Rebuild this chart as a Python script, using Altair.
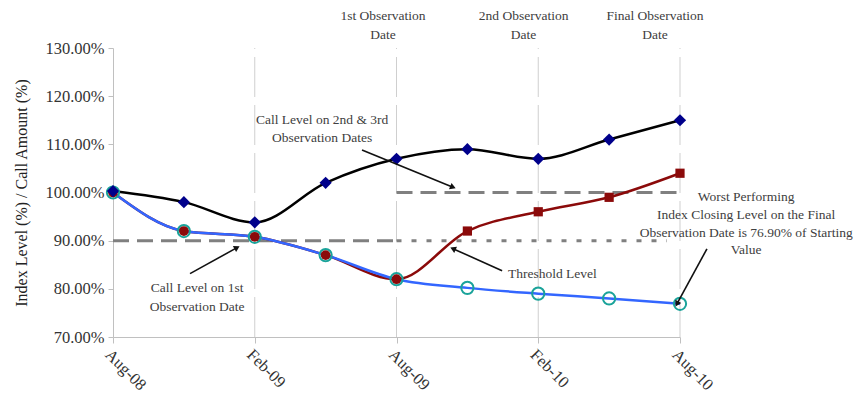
import math
import altair as alt
import pandas as pd

# ---------------- data ----------------
months = [0, 3, 6, 9, 12, 15, 18, 21, 24]
tick_months = [0, 6, 12, 18, 24]
tick_labels = ["Aug-08", "Feb-09", "Aug-09", "Feb-10", "Aug-10"]
y_ticks = [70, 80, 90, 100, 110, 120, 130]

best_index = [100.3, 98.0, 93.8, 102.0, 107.0, 109.0, 107.0, 111.0, 115.0]
worst_index = [100.0, 92.0, 90.8, 87.0, 82.0, 80.2, 79.0, 78.0, 76.9]
call_amount = [100.0, 92.0, 90.8, 87.0, 82.0, 92.0, 96.0, 99.0, 104.0]

guide_months = [6, 12, 18, 24]

# level lines: start month, end month, level
call1_level = [0, 12, 90]
threshold_level = [12, 23.45, 90]
call23_level = [12, 24, 100]

# annotation text lines: text, month, level
ann_text = [
    "1st Observation", "Date",
    "2nd Observation", "Date",
    "Final Observation", "Date",
    "Call Level on 2nd & 3rd", "Observation Dates",
    "Call Level on 1st", "Observation Date",
    "Threshold Level",
    "Worst Performing", "Index Closing Level on the Final",
    "Observation Date is 76.90% of Starting", "Value",
]
ann_m = [11.43, 11.43, 17.38, 17.38, 22.94, 22.94,
         8.85, 8.85, 3.56, 3.56, 18.6,
         26.8, 26.8, 26.8, 26.8]
ann_v = [136.6, 132.7, 136.6, 132.7, 136.6, 132.7,
         115.05, 111.3, 80.2, 76.2, 83.15,
         99.07, 95.33, 91.6, 88.06]

# arrows: from (m1, v1) to (m2, v2)
arrow_m1 = [10.54, 3.26, 16.47, 25.14]
arrow_v1 = [108.8, 83.15, 83.77, 88.3]
arrow_m2 = [14.39, 5.25, 14.39, 23.87]
arrow_v2 = [101.1, 88.55, 88.34, 76.88]

# ---------------- layout ----------------
W, H = 567, 289
PX_M = W / 24.0
PX_V = H / 60.0
SERIF = "Liberation Serif"

df_best = pd.DataFrame({"m": months, "v": best_index})
df_worst = pd.DataFrame({"m": months, "v": worst_index})
df_call = pd.DataFrame({"m": months, "v": call_amount})
df_guides = pd.DataFrame({"m": guide_months, "v": [70] * 4, "v2": [130] * 4})


def seg(s):
    return pd.DataFrame({"m": [s[0]], "m2": [s[1]], "v": [s[2]]})


df_ann = pd.DataFrame({"m": ann_m, "v": ann_v, "t": ann_text})
angles = []
for a, b, c, d in zip(arrow_m1, arrow_v1, arrow_m2, arrow_v2):
    dx = (c - a) * PX_M
    dy = -(d - b) * PX_V
    angles.append(math.degrees(math.atan2(dy, dx)) % 360)
df_arrow = pd.DataFrame({"m": arrow_m1, "v": arrow_v1, "m2": arrow_m2, "v2": arrow_v2})
df_head = pd.DataFrame({"m": arrow_m2, "v": arrow_v2, "ang": angles})

label_expr = "{" + ",".join(f"'{m}':'{l}'" for m, l in zip(tick_months, tick_labels)) + "}[datum.value]"

xs = alt.Scale(domain=[0, 24], nice=False, zero=False)
ys = alt.Scale(domain=[70, 130], nice=False, zero=False)

x_axis = alt.Axis(values=tick_months, labelExpr=label_expr, labelAngle=45, labelAlign="left",
                  labelBaseline="top", grid=False, domainColor="#c0c0c0", tickColor="#c0c0c0",
                  tickSize=6, labelFont=SERIF, labelFontSize=16.5, labelColor="#333333",
                  labelPadding=3)
y_axis = alt.Axis(values=y_ticks, labelExpr="format(datum.value, '.2f') + '%'", grid=False,
                  domainColor="#c0c0c0", tickColor="#c0c0c0", tickSize=5, labelFont=SERIF,
                  labelFontSize=16.5, labelColor="#333333", labelPadding=4,
                  title="Index Level (%) / Call Amount (%)", titleFont=SERIF, titleFontSize=16,
                  titleFontWeight="normal", titleColor="#222222", titlePadding=15)

X = alt.X("m:Q", scale=xs, axis=x_axis, title=None)
Y = alt.Y("v:Q", scale=ys, axis=y_axis)

guides = alt.Chart(df_guides).mark_rule(color="#cfcfcf", strokeWidth=1, strokeDash=[40, 8]).encode(
    x=X, y=Y, y2="v2:Q")


def level(s, dash):
    return alt.Chart(seg(s)).mark_rule(color="#808080", strokeWidth=3, strokeDash=dash).encode(
        x=X, x2="m2:Q", y=Y)


lev1 = level(call1_level, [16, 8])
lev_t = level(threshold_level, [5, 10])
lev23 = level(call23_level, [16, 8])

black_line = alt.Chart(df_best).mark_line(color="#000000", strokeWidth=2.5,
                                          interpolate="monotone").encode(x=X, y=Y)
black_pts = alt.Chart(df_best).mark_point(shape="diamond", filled=True, color="#00008b",
                                          size=150, opacity=1).encode(x=X, y=Y)

red_line = alt.Chart(df_call).mark_line(color="#8b0a0a", strokeWidth=2.5,
                                        interpolate="monotone").encode(x=X, y=Y)
blue_line = alt.Chart(df_worst).mark_line(color="#3366ff", strokeWidth=2.5,
                                          interpolate="monotone").encode(x=X, y=Y)
teal_pts = alt.Chart(df_worst).mark_point(shape="circle", filled=False, color="#1aa39a",
                                          size=150, strokeWidth=2, opacity=1).encode(x=X, y=Y)
red_circ = alt.Chart(df_call.iloc[:5]).mark_point(shape="circle", filled=True, color="#8b0a0a",
                                                  size=95, opacity=1).encode(x=X, y=Y)
red_sq = alt.Chart(df_call.iloc[5:]).mark_point(shape="square", filled=True, color="#8b0a0a",
                                                size=85, opacity=1).encode(x=X, y=Y)

arrows = alt.Chart(df_arrow).mark_rule(color="#111111", strokeWidth=1.6).encode(
    x=X, y=Y, x2="m2:Q", y2="v2:Q")
heads = alt.Chart(df_head).mark_point(shape="triangle-right", filled=True, color="#111111",
                                      size=45, opacity=1).encode(
    x=X, y=Y, angle=alt.Angle("ang:Q", scale=None))

texts = alt.Chart(df_ann).mark_text(font=SERIF, fontSize=13.5, color="#404040", align="center",
                                    baseline="middle").encode(x=X, y=Y, text="t:N")

chart = alt.layer(
    guides, lev1, lev_t, lev23, black_line, red_line, blue_line,
    teal_pts, red_circ, red_sq, black_pts, arrows, heads, texts
).properties(
    width=W, height=H,
    autosize=alt.AutoSizeParams(type="none"),
    padding={"left": 105, "top": 40, "right": 180, "bottom": 57},
).configure_view(stroke=None).configure_text(font=SERIF)

chart.save("out.html", embed_options={"renderer": "svg", "actions": False})
